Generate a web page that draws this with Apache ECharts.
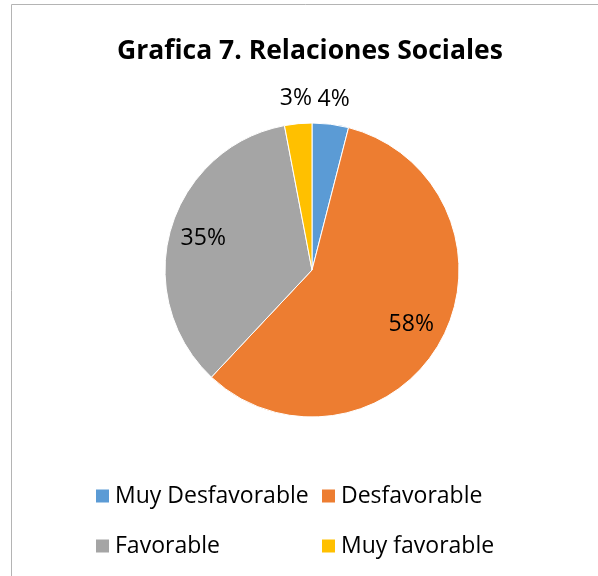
<!DOCTYPE html>
<html>
<head>
<meta charset="utf-8">
<script src="https://cdn.jsdelivr.net/npm/echarts@6/dist/echarts.min.js"></script>
<style>
  html, body { margin: 0; padding: 0; background: #fff; }
  #chart { width: 598px; height: 576px; }
</style>
</head>
<body>
<div id="chart"></div>
<script>
// datos de la grafica
var categories = ['Muy Desfavorable', 'Desfavorable', 'Favorable', 'Muy favorable'];
var values = [4, 58, 35, 3];
var colors = ['#5B9BD5', '#ED7D31', '#A5A5A5', '#FFC000'];

var font = '"Open Sans", "DejaVu Sans", sans-serif';
var center = [312, 270];
var R = 147;

var myChart = echarts.init(document.getElementById('chart'));

// rebanadas
var pieData = categories.map(function (name, i) {
    return { name: name, value: values[i], itemStyle: { color: colors[i] } };
});

// etiquetas: rebanadas grandes dentro, pequeñas fuera
function labelData(inner) {
    return categories.map(function (name, i) {
        var big = values[i] >= 10;
        return {
            name: name,
            value: values[i],
            itemStyle: { color: 'transparent' },
            label: { show: inner ? big : !big }
        };
    });
}

var labelStyle = {
    position: 'inside',
    fontFamily: font,
    fontSize: 23,
    color: '#000',
    formatter: function (p) { return Math.round(p.percent) + '%'; }
};

var legendBase = function (name, left, top) {
    return {
        data: [name],
        left: left,
        top: top,
        padding: 0,
        icon: 'rect',
        itemWidth: 15,
        itemHeight: 15,
        selectedMode: false,
        textStyle: { fontFamily: font, fontSize: 23, color: '#000', lineHeight: 24 }
    };
};

option = {
    animation: false,
    title: {
        text: 'Grafica 7. Relaciones Sociales',
        left: 117,
        top: 38,
        padding: 0,
        textStyle: { fontFamily: font, fontSize: 26.5, fontWeight: 'bold', color: '#000' }
    },
    graphic: [{
        type: 'rect',
        shape: { x: 11.5, y: 4.5, width: 600, height: 600 },
        style: { fill: 'none', stroke: '#b4b4b4', lineWidth: 1 },
        silent: true
    }],
    legend: [
        legendBase(categories[0], 94, 484),
        legendBase(categories[1], 320, 484),
        legendBase(categories[2], 94, 534),
        legendBase(categories[3], 320, 534)
    ],
    series: [
        {
            type: 'pie',
            center: center,
            radius: [0, R],
            startAngle: 90,
            clockwise: true,
            itemStyle: { borderColor: '#fff', borderWidth: 1 },
            label: { show: false },
            labelLine: { show: false },
            emphasis: { disabled: true },
            data: pieData
        },
        {
            type: 'pie',
            center: center,
            radius: [R / 2, R],
            startAngle: 90,
            silent: true,
            avoidLabelOverlap: false,
            label: labelStyle,
            labelLine: { show: false },
            data: labelData(true)
        },
        {
            type: 'pie',
            center: center,
            radius: [R, R + 44],
            startAngle: 90,
            silent: true,
            avoidLabelOverlap: false,
            label: labelStyle,
            labelLine: { show: false },
            data: labelData(false)
        }
    ]
};

myChart.setOption(option);
</script>
</body>
</html>
